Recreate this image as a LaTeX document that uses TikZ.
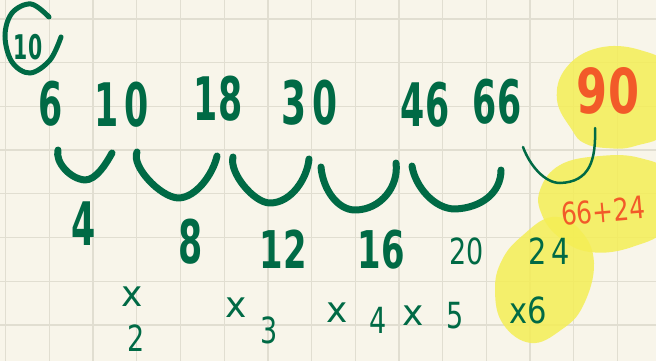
\documentclass[tikz,border=0pt]{standalone}
\usepackage{fontspec}
\setmainfont{DejaVu Sans}
\usepackage{graphicx}
\definecolor{ink}{HTML}{006A45}
\definecolor{redink}{HTML}{F25A29}
\definecolor{paper}{HTML}{F8F5EA}
\definecolor{gridc}{HTML}{E1DED1}
\definecolor{hilite}{HTML}{F4EE55}
\newcommand{\sqz}[2]{\scalebox{#1}[1]{#2}}
\tikzset{
  bignum/.style={text=ink, font=\fontsize{60}{60}\selectfont\bfseries, inner sep=0pt},
  midnum/.style={text=ink, font=\fontsize{52}{52}\selectfont\bfseries, inner sep=0pt},
  thinnum/.style={text=ink, font=\fontsize{36}{36}\selectfont, inner sep=0pt},
  multnum/.style={text=ink, font=\fontsize{36}{36}\selectfont, inner sep=0pt},
  rednum/.style={text=redink, font=\fontsize{62}{62}\selectfont\bfseries, inner sep=0pt},
  redthin/.style={text=redink, font=\fontsize{31}{31}\selectfont, inner sep=0pt},
  tagnum/.style={text=ink, font=\fontsize{34}{34}\selectfont\bfseries, inner sep=0pt},
  arcline/.style={draw=ink, line width=7pt, line cap=round, line join=round},
  thinline/.style={draw=ink, line width=2.5pt, line cap=round},
  blob/.style={fill=hilite, fill opacity=0.85},
  gridline/.style={draw=gridc, line width=1.3pt}
}
\begin{document}
\begin{tikzpicture}[x=1pt,y=-1pt]
\useasboundingbox (0,0) rectangle (656,361);
\fill[paper] (0,0) rectangle (656,361);
% grid
\foreach \i in {0,...,14} {\draw[gridline] ({5.7+43.7*\i},0) -- ({5.7+43.7*\i},361);}
\foreach \j in {0,...,7} {\draw[gridline] (0,{19+43.7*\j}) -- (656,{19+43.7*\j});}
% highlights
\begin{scope}
\clip (0,0) rectangle (656,361);
\fill[blob] plot[smooth cycle, tension=0.7] coordinates {(557,100) (566,68) (598,48) (640,50) (668,70) (668,128) (635,146) (606,148) (584,143) (572,130)};
\fill[blob] plot[smooth cycle, tension=0.7] coordinates {(540,190) (560,165) (600,156) (640,158) (668,175) (668,225) (632,247) (590,252) (560,238) (542,215)};
\fill[blob] plot[smooth cycle, tension=0.7] coordinates {(552,217) (580,230) (594,263) (583,306) (561,330) (531,343) (503,324) (495,290) (502,260) (522,236)};
\end{scope}
% circled tag
\node[tagnum] (tag) at (28,47) {\sqz{0.6}{10}};
\draw[ink, line width=5pt, line cap=round] plot[smooth, tension=0.6] coordinates {(49,17) (31,4) (12,13) (5,36) (12,62) (30,73) (50,60) (61,37)};
% top row
\node[bignum] (n6) at (51,104) {\sqz{0.58}{6}};
\node[bignum] (n10) at (122,105) {\sqz{0.58}{1\,0}};
\node[bignum] (n18) at (218,99) {\sqz{0.58}{18}};
\node[bignum] (n30) at (310,103) {\sqz{0.6}{3\,0}};
\node[bignum] (n46) at (425,105) {\sqz{0.58}{46}};
\node[bignum] (n66) at (497,102) {\sqz{0.58}{66}};
\node[rednum] (n90) at (608,91) {\sqz{0.72}{90}};
% arcs
\draw[arcline] (58,150) .. controls (55,162) and (70,179) .. (85,180) .. controls (96,180) and (106,164) .. (112,153);
\draw[arcline] (137,152) .. controls (131,166) and (160,197) .. (178,198) .. controls (196,198) and (213,174) .. (217,156);
\draw[arcline] (233,157) .. controls (229,173) and (254,203) .. (270,203) .. controls (291,203) and (307,179) .. (309,159);
\draw[arcline] (321,167) .. controls (323,190) and (338,210) .. (355,210) .. controls (381,210) and (399,186) .. (396,163);
\draw[arcline] (412,166) .. controls (415,186) and (434,209) .. (455,209) .. controls (481,208) and (501,193) .. (501,170);
\draw[thinline] (523,147) .. controls (530,166) and (545,183) .. (560,183) .. controls (590,182) and (596,160) .. (595,128);
% differences
\node[bignum] (d4) at (84,224) {\sqz{0.58}{4}};
\node[bignum] (d8) at (191,242) {\sqz{0.58}{8}};
\node[midnum] (d12) at (283,249) {\sqz{0.65}{12}};
\node[midnum] (d16) at (381,250) {\sqz{0.65}{16}};
\node[thinnum] (d20) at (467,251) {\sqz{0.75}{20}};
\node[thinnum] (d24) at (549,251) {\sqz{0.8}{2\,4}};
\node[redthin, rotate=5] (sum) at (603,211) {\sqz{0.8}{66+24}};
% multipliers
\node[multnum] (m2x) at (132,297) {x};
\node[multnum] (m2) at (136,338) {\sqz{0.75}{2}};
\node[multnum] (m3x) at (236,308) {x};
\node[multnum] (m3) at (269,330) {\sqz{0.75}{3}};
\node[multnum] (m4x) at (337,313) {x};
\node[multnum] (m4) at (378,320) {\sqz{0.75}{4}};
\node[multnum] (m5x) at (413,316) {x};
\node[multnum] (m5) at (455,316) {\sqz{0.75}{5}};
\node[multnum] (m6) at (528,310) {\sqz{0.85}{x6}};
\end{tikzpicture}
\end{document}
